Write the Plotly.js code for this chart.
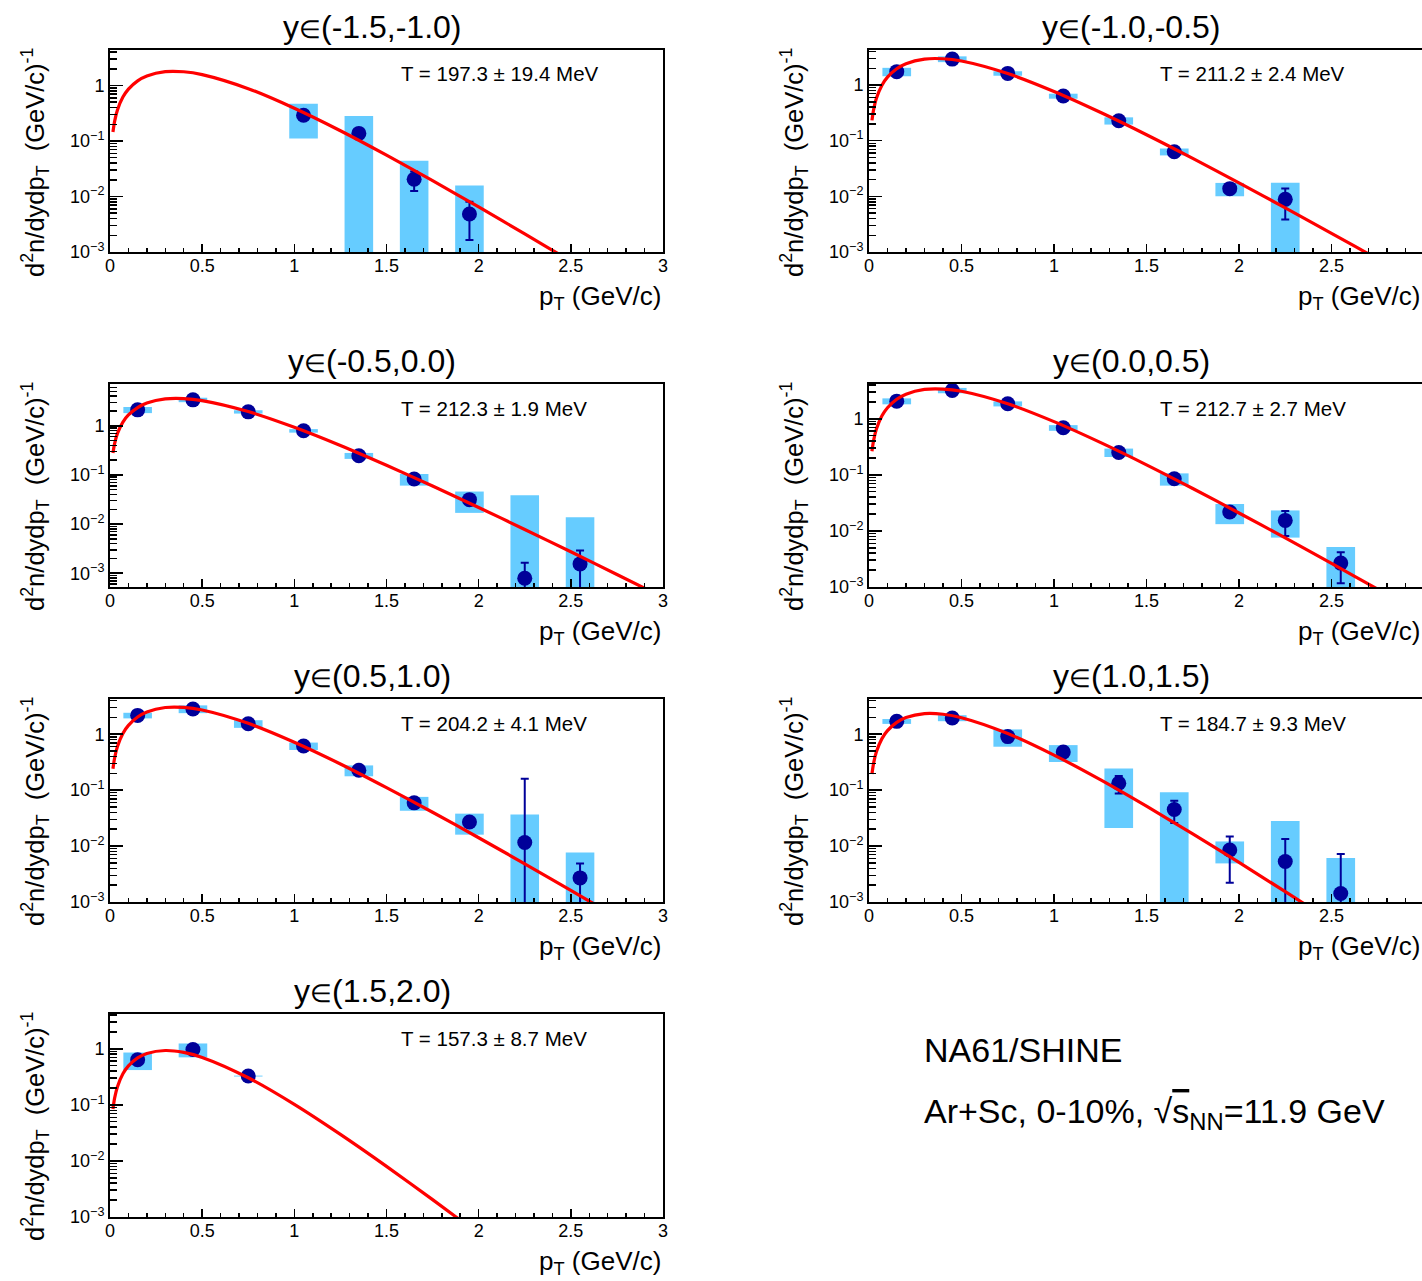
<!DOCTYPE html>
<html><head><meta charset="utf-8">
<script src="https://cdn.plot.ly/plotly-3.0.1.min.js"></script>
<style>html,body{margin:0;padding:0;overflow:hidden;background:#fff}#chart{width:1426px;height:1281px}</style>
</head><body><div id="chart"></div>
<script>
// ---------------- data ----------------
const EL = '<span style="font-size:25px">\u2208</span>';
const panelTitles = ['y' + EL + '(-1.5,-1.0)', 'y' + EL + '(-1.0,-0.5)', 'y' + EL + '(-0.5,0.0)', 'y' + EL + '(0.0,0.5)', 'y' + EL + '(0.5,1.0)', 'y' + EL + '(1.0,1.5)', 'y' + EL + '(1.5,2.0)'];
const fitLabels = ['T = 197.3 \u00b1 19.4 MeV', 'T = 211.2 \u00b1 2.4 MeV', 'T = 212.3 \u00b1 1.9 MeV', 'T = 212.7 \u00b1 2.7 MeV', 'T = 204.2 \u00b1 4.1 MeV', 'T = 184.7 \u00b1 9.3 MeV', 'T = 157.3 \u00b1 8.7 MeV'];
const yTickVals = [0.001, 0.01, 0.1, 1];
const yTickText = ['10<sup>\u22123</sup>', '10<sup>\u22122</sup>', '10<sup>\u22121</sup>', '1'];
const xTitle = 'p<sub>T</sub> (GeV/c)';
const yTitle = 'd<sup>2</sup>n/dydp<sub>T</sub>\u00a0\u00a0(GeV/c)<sup>-1</sup>';

const ptAll = [0.15, 0.45, 0.75, 1.05, 1.35, 1.65, 1.95, 2.25, 2.55];

const p1Pt   = [1.05, 1.35, 1.65, 1.95];
const p1Val  = [0.291, 0.137, 0.0204, 0.00484];
const p1Stat = [0.02, 0.012, 0.0078, 0.0032];
const p1Sys  = [0.18, 0.146, 0.0236, 0.0109];

const p2Pt   = [0.15, 0.45, 0.75, 1.05, 1.35, 1.65, 1.95, 2.25];
const p2Val  = [1.74, 2.93, 1.62, 0.634, 0.229, 0.0634, 0.01374, 0.00883];
const p2Stat = [0.05, 0.08, 0.04, 0.015, 0.006, 0.002, 0.0006, 0.005];
const p2Sys  = [0.30, 0.35, 0.15, 0.065, 0.034, 0.009, 0.0037, 0.0088];

const p3Pt   = ptAll;
const p3Val  = [2.11, 3.37, 1.92, 0.79, 0.246, 0.0826, 0.0314, 0.00079, 0.00155];
const p3Stat = [0.06, 0.09, 0.05, 0.02, 0.007, 0.003, 0.0015, 0.00084, 0.00134];
const p3Sys  = [0.30, 0.35, 0.15, 0.065, 0.034, 0.022, 0.0145, 0.038, 0.0122];

const p4Pt   = ptAll;
const p4Val  = [2.06, 3.2, 1.85, 0.69, 0.251, 0.0852, 0.0217, 0.0154, 0.00267];
const p4Stat = [0.06, 0.09, 0.05, 0.02, 0.007, 0.003, 0.0012, 0.0073, 0.0015];
const p4Sys  = [0.25, 0.35, 0.19, 0.08, 0.043, 0.021, 0.0085, 0.0078, 0.0025];

const p5Pt   = ptAll;
const p5Val  = [2.17, 2.83, 1.54, 0.616, 0.227, 0.0593, 0.027, 0.01158, 0.0027];
const p5Stat = [0.06, 0.08, 0.04, 0.02, 0.007, 0.003, 0.002, 0.149, 0.0022];
const p5Sys  = [0.25, 0.45, 0.24, 0.093, 0.05, 0.0165, 0.011, 0.025, 0.005];

const p6Pt   = ptAll;
const p6Val  = [1.70, 1.95, 0.908, 0.479, 0.133, 0.0451, 0.0085, 0.0053, 0.00142];
const p6Stat = [0.06, 0.07, 0.04, 0.03, 0.046, 0.0193, 0.0063, 0.0081, 0.0058];
const p6Sys  = [0.17, 0.24, 0.31, 0.16, 0.112, 0.0465, 0.0036, 0.0228, 0.0047];

const p7Pt   = [0.15, 0.45, 0.75];
const p7Val  = [0.637, 0.973, 0.326];
const p7Stat = [0.03, 0.04, 0.015];
const p7Sys  = [0.22, 0.27, 0.006];

// fitted curves
const fitPt = [0.016, 0.025, 0.04, 0.07, 0.1, 0.15, 0.2, 0.3, 0.4, 0.5, 0.75, 1.0, 1.25, 1.5, 1.75, 2.0, 2.25, 2.5, 2.75, 3.0];
const p1Fit = [0.145, 0.226, 0.360, 0.619, 0.862, 1.215, 1.489, 1.778, 1.770, 1.573, 0.878, 0.389, 0.153, 0.0556, 0.0193, 0.00648, 0.00212, 0.000682, 0.000216, 0.000068];
const p2Fit = [0.232, 0.362, 0.577, 0.994, 1.386, 1.961, 2.417, 2.929, 2.972, 2.702, 1.608, 0.767, 0.324, 0.128, 0.0481, 0.0175, 0.00621, 0.00217, 0.000745, 0.000253];
const p3Fit = [0.278, 0.434, 0.691, 1.190, 1.660, 2.350, 2.897, 3.515, 3.571, 3.252, 1.945, 0.932, 0.397, 0.157, 0.0595, 0.0218, 0.00778, 0.00273, 0.000944, 0.000323];
const p4Fit = [0.264, 0.411, 0.655, 1.129, 1.574, 2.229, 2.748, 3.336, 3.391, 3.090, 1.851, 0.889, 0.379, 0.151, 0.0571, 0.0209, 0.00749, 0.00264, 0.000913, 0.000313];
const p5Fit = [0.241, 0.376, 0.599, 1.032, 1.438, 2.031, 2.496, 3.003, 3.019, 2.715, 1.566, 0.721, 0.294, 0.111, 0.0403, 0.0141, 0.00481, 0.00161, 0.000533, 0.000174];
const p6Fit = [0.195, 0.305, 0.485, 0.834, 1.159, 1.628, 1.983, 2.331, 2.274, 1.975, 1.030, 0.424, 0.154, 0.0516, 0.0165, 0.00509, 0.00153, 0.000452, 0.000131, 0.000037];
const p7Fit = [0.0845, 0.132, 0.209, 0.359, 0.496, 0.689, 0.826, 0.931, 0.860, 0.701, 0.304, 0.102, 0.0297, 0.0080, 0.00204, 0.000502, 0.00012, 0.000028, 0.0000065, 0.0000015];

const yLogRanges = [[-3, 0.64], [-3, 0.63], [-3.28, 0.85], [-3, 0.62], [-3, 0.63], [-3, 0.63], [-3, 0.62]];

const panels = [
  {pt: p1Pt, val: p1Val, stat: p1Stat, sys: p1Sys, fit: p1Fit},
  {pt: p2Pt, val: p2Val, stat: p2Stat, sys: p2Sys, fit: p2Fit},
  {pt: p3Pt, val: p3Val, stat: p3Stat, sys: p3Sys, fit: p3Fit},
  {pt: p4Pt, val: p4Val, stat: p4Stat, sys: p4Sys, fit: p4Fit},
  {pt: p5Pt, val: p5Val, stat: p5Stat, sys: p5Sys, fit: p5Fit},
  {pt: p6Pt, val: p6Val, stat: p6Stat, sys: p6Sys, fit: p6Fit},
  {pt: p7Pt, val: p7Val, stat: p7Stat, sys: p7Sys, fit: p7Fit}
];

// ---------------- layout geometry (px) ----------------
const W = 1426, H = 1281;
const colX = [[110, 663], [869, 1424]];
const rowY = [[50, 252], [384, 587], [699, 902], [1014, 1217]];
const FONT = 'Liberation Sans, Arial, Helvetica, sans-serif';
const BOX = '#66ccff', MARK = '#000099', FIT = '#ff0000';
const px = v => v / W, py = v => 1 - v / H;

const data = [];
const layout = {
  width: W, height: H, margin: {l: 0, r: 0, t: 0, b: 0},
  paper_bgcolor: '#fff', plot_bgcolor: '#fff',
  showlegend: false, hovermode: false, barmode: 'overlay',
  font: {family: FONT, color: '#000'},
  annotations: []
};

panels.forEach((p, i) => {
  const n = i + 1, sfx = n === 1 ? '' : String(n);
  const col = colX[i % 2], row = rowY[Math.floor(i / 2)];
  const xa = 'x' + sfx, ya = 'y' + sfx;

  const base = p.val.map((v, k) => Math.max(v - p.sys[k], 1e-6));
  const height = p.val.map((v, k) => v + p.sys[k] - base[k]);
  data.push({type: 'bar', x: p.pt, y: height, base: base, width: 0.155,
             marker: {color: BOX, line: {width: 0}}, xaxis: xa, yaxis: ya});
  data.push({type: 'scatter', mode: 'markers', x: p.pt, y: p.val,
             marker: {color: MARK, size: 15, symbol: 'circle'},
             error_y: {type: 'data', array: p.stat, visible: true, color: MARK, thickness: 2, width: 4},
             xaxis: xa, yaxis: ya});
  data.push({type: 'scatter', mode: 'lines', x: fitPt, y: p.fit,
             line: {color: FIT, width: 3.2, shape: 'spline', smoothing: 0.8},
             xaxis: xa, yaxis: ya});

  layout['xaxis' + sfx] = {
    domain: [px(col[0]), px(col[1])], anchor: ya, range: [0, 3],
    showline: true, mirror: true, linecolor: '#000', linewidth: 2,
    ticks: 'inside', ticklen: 8, tickwidth: 1.5, tickcolor: '#000',
    tick0: 0, dtick: 0.5, showgrid: false, zeroline: false, ticklabelstandoff: -4,
    minor: {ticks: 'inside', dtick: 0.1, ticklen: 4, tickwidth: 1.5, tickcolor: '#000', showgrid: false},
    tickfont: {family: FONT, size: 18, color: '#000'}
  };
  layout['yaxis' + sfx] = {
    domain: [py(row[1]), py(row[0])], anchor: xa, type: 'log', range: yLogRanges[i],
    showline: true, mirror: true, linecolor: '#000', linewidth: 2,
    ticks: 'inside', ticklen: 13, tickwidth: 1.5, tickcolor: '#000',
    tickmode: 'array', tickvals: yTickVals, ticktext: yTickText,
    minor: {ticks: 'inside', dtick: 'D1', ticklen: 7, tickwidth: 1.5, tickcolor: '#000', showgrid: false},
    showgrid: false, zeroline: false,
    tickfont: {family: FONT, size: 18, color: '#000'}
  };

  const ann = layout.annotations;
  ann.push({xref: 'paper', yref: 'paper', x: px(col[0] + 262), y: py(row[0] - 23), xanchor: 'center', yanchor: 'middle',
            text: panelTitles[i], showarrow: false, font: {family: FONT, size: 32, color: '#000'}});
  ann.push({xref: 'paper', yref: 'paper', x: px(col[0] + 289), y: py(row[0] + 24), xanchor: 'left', yanchor: 'middle',
            text: fitLabels[i], showarrow: false, font: {family: FONT, size: 20.5, color: '#000'}});
  ann.push({xref: 'paper', yref: 'paper', x: px(col[0] - 75), y: py(row[0] - 5), xanchor: 'center', yanchor: 'top',
            textangle: -90, text: yTitle, showarrow: false, font: {family: FONT, size: 25.5, color: '#000'}});
  ann.push({xref: 'paper', yref: 'paper', x: px(col[0] + 553), y: py(row[1] + 45), xanchor: 'right', yanchor: 'middle',
            text: xTitle, showarrow: false, font: {family: FONT, size: 26, color: '#000'}});
});

layout.annotations.push({xref: 'paper', yref: 'paper', x: px(922), y: py(1050), xanchor: 'left', yanchor: 'middle',
  text: 'NA61/SHINE', showarrow: false, font: {family: FONT, size: 34, color: '#000'}});
layout.annotations.push({xref: 'paper', yref: 'paper', x: px(922), y: py(1113), xanchor: 'left', yanchor: 'middle',
  text: 'Ar+Sc, 0-10%, \u221a<span style="text-decoration:overline">s</span><sub>NN</sub>=11.9 GeV',
  showarrow: false, font: {family: FONT, size: 34, color: '#000'}});

Plotly.newPlot('chart', data, layout, {staticPlot: true, displayModeBar: false});
</script>
</body></html>
